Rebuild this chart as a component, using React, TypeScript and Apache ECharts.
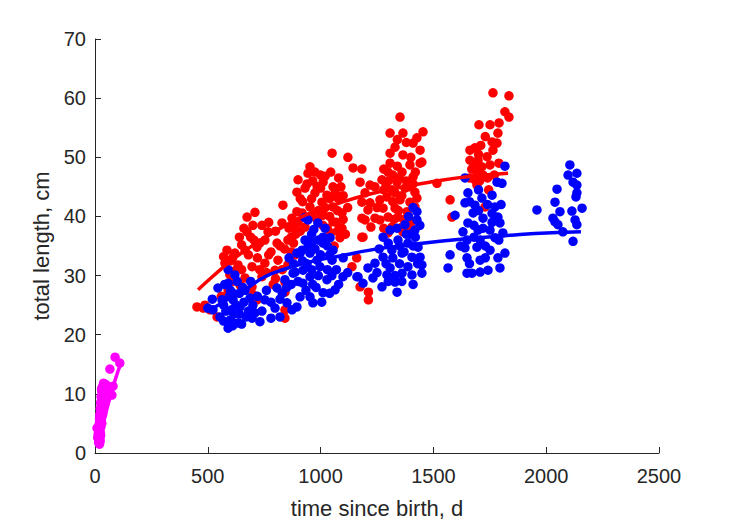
import React, { useEffect, useRef } from "react";
import * as echarts from "echarts";

const xTicks = [0, 500, 1000, 1500, 2000, 2500];
const yTicks = [0, 10, 20, 30, 40, 50, 60, 70];
const xTitle = "time since birth, d";
const yTitle = "total length, cm";

const redPoints: number[][] = [
  [452, 24.7], [487, 25], [541, 23], [480, 24.5], [510, 24.2], [833, 41.9], [674, 39.9], [700, 38.5], [674, 37.4], [767, 37.4],
  [829, 38.9], [873, 39.7], [918, 40.6], [855, 36], [807, 35.5], [753, 36], [718, 34.8], [665, 34.3], [620, 33.8], [585, 34.3],
  [634, 31.8], [576, 32.1], [696, 31.5], [753, 32.1], [811, 32.6], [855, 31.8], [798, 30.9], [740, 29.8], [665, 29.6], [598, 30.1],
  [842, 28.9], [643, 28.4], [696, 28.1], [842, 27.2], [842, 24.2], [842, 22.8], [718, 25.9], [887, 33.5], [600, 32.5], [650, 35.2],
  [690, 36.5], [720, 33], [780, 34], [860, 38], [890, 37], [620, 30.8], [560, 26.5], [790, 28.5], [760, 30.5], [880, 35.5],
  [700, 26.8], [570, 33.2], [709, 40.7],
  [590, 27.5], [610, 33], [640, 36.5], [660, 38], [680, 33.5], [705, 36], [730, 35.5], [740, 38.5], [770, 39], [800, 37.5],
  [820, 35], [840, 34.5], [870, 36.5], [900, 39], [610, 29], [650, 31], [770, 33.5], [730, 31], [800, 29.5], [830, 31],
  [870, 34], [910, 37.5],
  [1051, 50.7], [1121, 50], [1144, 48.2], [1183, 48], [953, 48.4], [975, 47.5], [900, 46.2], [944, 47.3], [1011, 45.8], [1055, 45],
  [931, 44.8], [895, 44.1], [975, 44], [1028, 43.6], [1077, 43.1], [1006, 42.4], [1055, 41.6], [953, 41.6], [895, 40.8], [1095, 40.6],
  [1011, 40.2], [1055, 39.1], [1095, 38], [1086, 36.4], [1183, 39.7], [1188, 36.5], [1183, 42.4], [1139, 31.5], [1175, 28.1], [878, 38.2],
  [931, 38.2], [990, 41], [1040, 43], [1070, 39], [1030, 38], [1100, 43.5], [1000, 44.8], [960, 43], [1110, 37], [1060, 35],
  [1120, 41.5], [920, 42.5], [1080, 46.5], [1212, 25.9], [1212, 27.2], [1160, 33],
  [910, 43], [940, 45.5], [965, 46], [985, 45], [1000, 47], [1020, 46.8], [1045, 47.5], [1065, 44], [1090, 45], [1020, 41.5],
  [1040, 40], [1075, 41], [985, 39.5], [960, 40], [1010, 38.5], [1045, 37.2], [1075, 37.5], [1100, 39.5],
  [1352, 56.8], [1308, 54.1], [1365, 54.1], [1454, 54.3], [1427, 53.3], [1441, 51.2], [1308, 50.7], [1449, 49.2], [1175, 45.8], [1219, 45.3],
  [1330, 51.7], [1410, 52.4], [1365, 50.4], [1308, 49], [1396, 48.7], [1441, 49], [1299, 47.5], [1361, 47.5], [1410, 46.7], [1339, 45.8],
  [1272, 46.2], [1241, 45], [1316, 44.5], [1374, 44.8], [1418, 44.1], [1294, 43.3], [1352, 42.8], [1396, 42.4], [1427, 43.1], [1263, 42.8],
  [1219, 42.3], [1210, 41.1], [1277, 41.4], [1330, 41.4], [1383, 40.8], [1418, 41.6], [1299, 39.9], [1343, 39.9], [1263, 39.4], [1316, 38.2],
  [1365, 37.4], [1299, 37.2], [1241, 39.7], [1516, 45.6], [1183, 36.5], [1197, 39.4], [1223, 38.2], [1361, 38.2], [1197, 44], [1340, 48.5],
  [1380, 46], [1290, 45.5], [1320, 42.5], [1250, 41.5], [1400, 39],
  [1280, 48], [1320, 47], [1350, 46.5], [1390, 45], [1300, 46], [1330, 44], [1360, 43.5], [1410, 45.5], [1280, 44.5], [1345, 41],
  [1370, 39.5], [1390, 38], [1325, 39.5], [1280, 38], [1400, 50], [1420, 47.5], [1380, 52.5], [1340, 53],
  [1764, 60.9], [1835, 60.4], [1817, 57.7], [1835, 56.8], [1702, 55.5], [1751, 55.5], [1791, 55.8], [1786, 54.1], [1760, 52.6], [1782, 52.4],
  [1662, 51.2], [1684, 51.6], [1662, 49.5], [1698, 49.5], [1738, 50.1], [1764, 51.2], [1715, 48.4], [1693, 47.5], [1751, 48.7], [1684, 46.2],
  [1693, 45.3], [1574, 42.8], [1582, 39.9], [1729, 41.6], [1720, 47], [1740, 46.5], [1670, 48], [1790, 49],
  [1710, 52], [1730, 53.5], [1700, 50.5], [1680, 48.5], [1770, 47], [1745, 44.5], [1705, 46], [1660, 46.5],
];

const bluePoints: number[][] = [
  [620, 30.1], [545, 27.9], [590, 28.7], [612, 25.9], [563, 25.9], [523, 24.2], [554, 23], [590, 21.1], [634, 22], [696, 22.8],
  [731, 22.2], [753, 25.9], [798, 24.5], [851, 25.4], [807, 27.9], [842, 29.3], [887, 30.6], [909, 33.8], [687, 26.2], [709, 23.7],
  [643, 24.7], [600, 22.5], [610, 21.5], [580, 24], [640, 27], [660, 25.5], [670, 23], [720, 26.5], [780, 25.5], [830, 27],
  [870, 28.5], [880, 32], [860, 33], [780, 22.8], [600, 27.5], [570, 22.3], [500, 24.5], [520, 26], [650, 21.8], [590, 31],
  [615, 23.5], [630, 29], [700, 25], [820, 23], [612, 27],
  [575, 28.5], [595, 26.5], [625, 25], [655, 28], [680, 24], [605, 24.2], [570, 25], [640, 23.5], [665, 27.5], [690, 29],
  [740, 24], [760, 27.5], [820, 26], [850, 28], [900, 29],
  [944, 39.4], [988, 38.9], [1020, 38], [1042, 36.4], [1011, 35.5], [931, 36], [918, 34.3], [895, 33.8], [953, 33.8], [1055, 34.3],
  [1051, 32.6], [997, 31.5], [922, 30.9], [878, 30.4], [953, 29.8], [1028, 29.3], [1099, 29.8], [1161, 29.8], [1188, 28.7], [1064, 27.6],
  [1011, 27.1], [953, 26.4], [909, 26.4], [895, 24.7], [966, 25.4], [873, 24.2], [922, 28.7], [984, 32.6], [962, 35.7], [1011, 36.5],
  [970, 37.8], [940, 32], [1000, 33.5], [1030, 31], [980, 28], [1070, 31], [1120, 30.5], [960, 31], [930, 39.8], [1040, 33.5],
  [920, 32.5], [945, 35], [975, 34.5], [990, 36], [1030, 35], [1050, 30], [990, 30], [965, 28.5], [935, 27.5], [1005, 25.5],
  [1040, 27], [1080, 28.5], [1100, 33], [960, 37],
  [1427, 40.8], [1427, 39.4], [1418, 37.7], [1374, 38.6], [1339, 38], [1308, 37.7], [1277, 36.5], [1343, 36], [1387, 35.5], [1432, 34.8],
  [1441, 33.1], [1449, 31.8], [1449, 30.4], [1405, 30.1], [1361, 30.4], [1308, 31.3], [1277, 33.1], [1241, 32.1], [1210, 31.3], [1166, 29.8],
  [1232, 29.6], [1272, 28.1], [1330, 28.9], [1339, 27.2], [1294, 30.1], [1361, 33.8], [1316, 34.3], [1405, 33.1], [1387, 31.5], [1350, 32],
  [1300, 35.5], [1420, 36.5], [1380, 37], [1260, 34.5], [1330, 30], [1440, 38.5],
  [1290, 32], [1320, 33], [1350, 35], [1370, 34], [1395, 37], [1410, 35], [1430, 32], [1300, 29], [1360, 29], [1410, 28.5],
  [1250, 30.5], [1390, 40], [1410, 41.5],
  [1817, 48.5], [1640, 46.5], [1782, 45.8], [1804, 45.6], [1653, 44], [1760, 43.6], [1715, 43.1], [1640, 42.3], [1684, 41.9], [1773, 41.6],
  [1596, 40.2], [1676, 40.6], [1720, 39.7], [1786, 39.9], [1653, 38.9], [1795, 38.9], [1631, 37.4], [1698, 37.7], [1751, 37.7], [1808, 37.2],
  [1649, 36], [1707, 36], [1773, 36.4], [1640, 34.7], [1693, 34.8], [1751, 34.3], [1817, 33.8], [1649, 33], [1707, 32.6], [1786, 33],
  [1574, 33.5], [1565, 31.3], [1649, 30.4], [1671, 30.4], [1707, 30.6], [1742, 30.9], [1795, 31.3], [1730, 35], [1680, 38.5], [1760, 40.5],
  [1660, 42.5], [1700, 44.5], [1740, 42], [1680, 36.5], [1720, 38], [1760, 39], [1790, 36], [1660, 32], [1730, 33], [1800, 42],
  [1700, 41], [1620, 35],
  [1959, 41.1], [2048, 44.6], [2039, 42.4], [2061, 40.8], [2030, 39.7], [2039, 39.1], [2052, 38.6], [2074, 37.4], [2105, 48.7], [2097, 47],
  [2136, 47.3], [2119, 45.8], [2136, 45.3], [2136, 44], [2132, 43.3], [2159, 41.4], [2114, 40.9], [2128, 39.4], [2136, 38.6], [2119, 35.8],
];

const magentaPoints: number[][] = [
  [18, 1.8], [20, 2.2], [22, 2.6], [19, 3.0], [24, 3.4], [22, 4.0], [26, 4.4], [24, 5.0], [28, 5.5], [20, 5.8],
  [27, 6.0], [30, 6.4], [28, 7.0], [32, 7.4], [30, 8.0], [35, 8.4], [33, 9.0], [38, 9.4], [35, 10.0], [30, 10.4],
  [40, 10.8], [45, 11.2], [50, 11.4], [42, 11.5], [55, 11.2], [25, 3.0], [23, 2.0], [30, 5.0], [34, 6.5], [38, 8.0],
  [42, 9.0], [45, 10.0], [9, 4.2], [31, 8.6], [60, 9.8], [75, 9.8], [80, 11.3], [66, 14.2], [89, 16.2], [110, 15.2],
  [15, 2.5], [17, 4], [19, 5], [21, 6.5], [23, 7.5], [25, 8.5], [27, 9.5], [29, 10.8], [31, 11], [35, 11.3],
  [38, 11.8], [26, 6.8], [28, 8.2], [32, 9.8], [36, 10.6], [14, 3.2], [12, 2.6], [20, 1.5], [16, 1.8], [47, 11.6],
];

const redFit: number[][] = [
  [457, 27.6], [520, 29.8], [600, 32.4], [680, 34.6], [753, 36.4], [850, 38.6], [950, 40.5], [1086, 42.3], [1219, 43.8],
  [1350, 44.9], [1500, 45.9], [1650, 46.7], [1831, 47.3],
];
const blueFit: number[][] = [
  [520, 24.4], [600, 26.2], [650, 27.2], [753, 29.8], [850, 31.2], [950, 32.3], [1086, 33.3], [1219, 34.3], [1350, 35.0],
  [1529, 35.8], [1700, 36.4], [1840, 36.8], [1950, 37.1], [2154, 37.4],
];
const magentaFit: number[][] = [
  [15, 1.5], [40, 5.5], [60, 8.5], [80, 11.2], [100, 13.6], [115, 15.2],
];

const RED = "#FF0000";
const BLUE = "#0000FF";
const MAGENTA = "#FF00FF";
const TEXT = "#262626";
const FONT = "'Liberation Sans', Arial, Helvetica, sans-serif";

export default function App() {
  const ref = useRef<HTMLDivElement>(null);
  useEffect(() => {
    if (!ref.current) return;
    const chart = echarts.init(ref.current, null, { renderer: "svg" });
    const scatter = (data: number[][], color: string) => ({
      type: "scatter",
      data,
      symbol: "circle",
      symbolSize: 9.5,
      itemStyle: { color, opacity: 1 },
      silent: true,
    });
    const line = (data: number[][], color: string) => ({
      type: "line",
      data,
      smooth: true,
      showSymbol: false,
      symbol: "none",
      lineStyle: { color, width: 3.5 },
      silent: true,
    });
    chart.setOption({
      animation: false,
      backgroundColor: "#ffffff",
      textStyle: { fontFamily: FONT },
      grid: { left: 95, right: 70, top: 39, bottom: 68, containLabel: false, outerBoundsMode: "none" },
      xAxis: {
        type: "value",
        min: xTicks[0],
        max: xTicks[xTicks.length - 1],
        interval: 500,
        name: xTitle,
        nameLocation: "middle",
        nameGap: 44,
        nameTextStyle: { color: TEXT, fontSize: 22, fontFamily: FONT },
        axisLine: { show: true, lineStyle: { color: TEXT, width: 1 } },
        axisTick: { show: true, inside: true, length: 6, lineStyle: { color: TEXT } },
        axisLabel: { color: TEXT, fontSize: 20, margin: 13, fontFamily: FONT, formatter: (v: number) => String(v) },
        splitLine: { show: false },
      },
      yAxis: {
        type: "value",
        min: yTicks[0],
        max: yTicks[yTicks.length - 1],
        interval: 10,
        name: yTitle,
        nameLocation: "middle",
        nameGap: 40,
        nameTextStyle: { color: TEXT, fontSize: 22, fontFamily: FONT },
        axisLine: { show: true, lineStyle: { color: TEXT, width: 1 } },
        axisTick: { show: true, inside: true, length: 6, lineStyle: { color: TEXT } },
        axisLabel: { color: TEXT, fontSize: 20, margin: 9, fontFamily: FONT, formatter: (v: number) => String(v) },
        splitLine: { show: false },
      },
      series: [
        scatter(redPoints, RED),
        line(redFit, RED),
        scatter(bluePoints, BLUE),
        line(blueFit, BLUE),
        scatter(magentaPoints, MAGENTA),
        line(magentaFit, MAGENTA),
      ],
    });
    return () => chart.dispose();
  }, []);
  return <div ref={ref} style={{ width: 729, height: 521, position: "absolute", left: 0, top: 0 }} />;
}
